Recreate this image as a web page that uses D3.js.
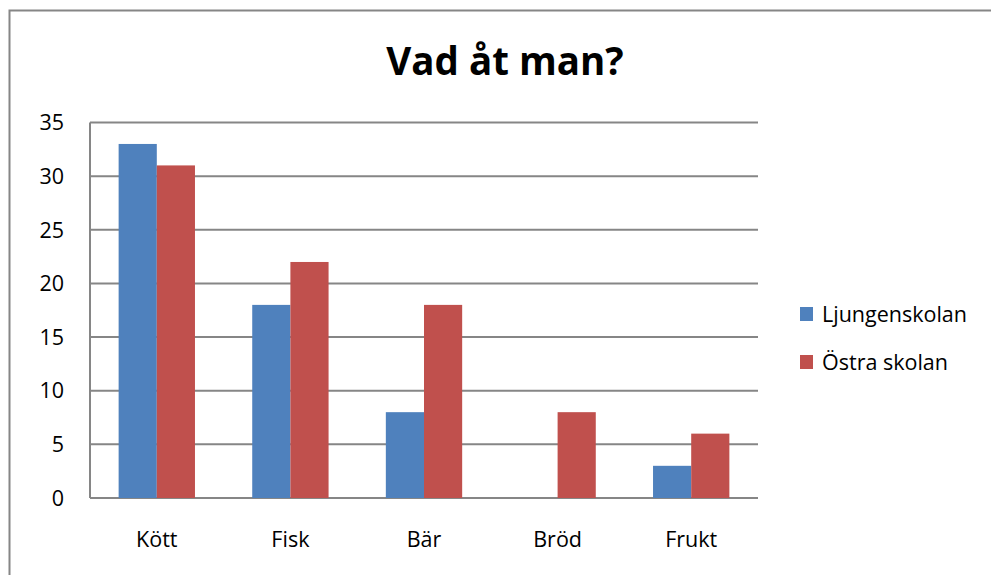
<!DOCTYPE html>
<html>
<head>
<meta charset="utf-8">
<script src="https://cdn.jsdelivr.net/npm/d3@7"></script>
<style>
  body { margin: 0; background: #fff; }
  text { font-family: "Open Sans", "Noto Sans", sans-serif; fill: #000; }
</style>
</head>
<body>
<svg id="chart" width="991" height="575"></svg>
<script>
var categories = ["Kött", "Fisk", "Bär", "Bröd", "Frukt"];
var series = ["Ljungenskolan", "Östra skolan"];
var ljungen = [33, 18, 8, 0, 3];
var ostra = [31, 22, 18, 8, 6];
var yTicks = [0, 5, 10, 15, 20, 25, 30, 35];

var colors = ["#4f81bd", "#c0504d"];
var data = categories.map(function(c, i) {
    return { cat: c, values: [ljungen[i], ostra[i]] };
});

var svg = d3.select("#chart"),
    margin = {top: 122.5, right: 233, bottom: 77, left: 90},
    width = +svg.attr("width") - margin.left - margin.right,
    height = +svg.attr("height") - margin.top - margin.bottom;

// outer chart frame (only left & top edges show)
svg.append("path")
    .attr("d", "M9.5,575 V10.5 H991")
    .attr("fill", "none")
    .attr("stroke", "#868686")
    .attr("stroke-width", 2);

var group = svg.append("g")
    .attr("transform", "translate(" + margin.left + "," + margin.top + ")");

var xscale = d3.scaleBand()
    .domain(categories)
    .range([0, width])
    .paddingInner(0.4286)
    .paddingOuter(0.2143);

var x1 = d3.scaleBand()
    .domain(d3.range(series.length))
    .range([0, xscale.bandwidth()]);

var yscale = d3.scaleLinear()
    .domain([0, 35])
    .range([height, 0]);

// gridlines
group.append("g")
    .selectAll("line")
    .data(yTicks)
    .enter().append("line")
    .attr("x1", 0)
    .attr("x2", width)
    .attr("y1", function(d) { return yscale(d); })
    .attr("y2", function(d) { return yscale(d); })
    .attr("stroke", "#868686")
    .attr("stroke-width", 2);

// left axis line
group.append("line")
    .attr("x1", 0).attr("x2", 0)
    .attr("y1", 0).attr("y2", height)
    .attr("stroke", "#868686")
    .attr("stroke-width", 2);

// bars
group.append("g")
    .selectAll("g")
    .data(data)
    .enter().append("g")
    .attr("transform", function(d) { return "translate(" + xscale(d.cat) + ",0)"; })
    .selectAll("rect")
    .data(function(d) { return d.values; })
    .enter().append("rect")
    .attr("x", function(d, i) { return x1(i); })
    .attr("y", function(d) { return yscale(d); })
    .attr("width", x1.bandwidth())
    .attr("height", function(d) { return yscale(0) - yscale(d); })
    .attr("fill", function(d, i) { return colors[i]; });

// y tick labels
group.append("g")
    .selectAll("text")
    .data(yTicks)
    .enter().append("text")
    .attr("x", -26)
    .attr("y", function(d) { return yscale(d); })
    .attr("dy", "0.36em")
    .attr("text-anchor", "end")
    .attr("font-size", 21.5)
    .text(function(d) { return d; });

// x category labels
group.append("g")
    .selectAll("text")
    .data(categories)
    .enter().append("text")
    .attr("x", function(d) { return xscale(d) + xscale.bandwidth() / 2; })
    .attr("y", height + 49)
    .attr("text-anchor", "middle")
    .attr("font-size", 21.5)
    .text(function(d) { return d; });

// title
svg.append("text")
    .attr("x", 505)
    .attr("y", 75)
    .attr("text-anchor", "middle")
    .attr("font-size", 38.5)
    .attr("font-weight", "bold")
    .text("Vad åt man?");

// legend
var legend = svg.append("g")
    .selectAll("g")
    .data(series)
    .enter().append("g")
    .attr("transform", function(d, i) { return "translate(800," + (307 + i * 48) + ")"; });

legend.append("rect")
    .attr("width", 13)
    .attr("height", 14)
    .attr("fill", function(d, i) { return colors[i]; });

legend.append("text")
    .attr("x", 22)
    .attr("y", 15)
    .attr("font-size", 21.5)
    .text(function(d) { return d; });
</script>
</body>
</html>
